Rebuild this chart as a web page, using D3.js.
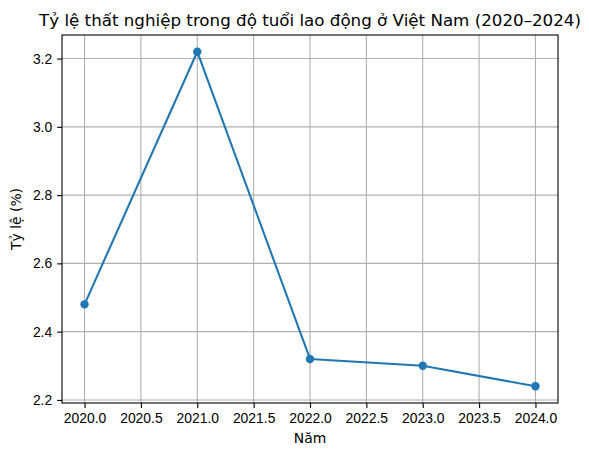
<!DOCTYPE html>
<html>
<head>
<meta charset="utf-8">
<script src="https://cdn.jsdelivr.net/npm/d3@7"></script>
<style>
  body { margin: 0; background: #fff; }
  svg { font-family: "DejaVu Sans", sans-serif; display: block; }
  .tick text { font-size: 13.9px; fill: #000; }
</style>
</head>
<body>
<figure id="chart" style="margin:0"></figure>
<script>
// data
var years = [2020, 2021, 2022, 2023, 2024];
var rates = [2.48, 3.22, 2.32, 2.30, 2.24];
var xTicks = [2020.0, 2020.5, 2021.0, 2021.5, 2022.0, 2022.5, 2023.0, 2023.5, 2024.0];
var yTicks = [2.2, 2.4, 2.6, 2.8, 3.0, 3.2];

let dimensions = {
    width: 589,
    height: 457,
    margin: { top: 35, right: 31, bottom: 54, left: 62 },
};
dimensions.boundedWidth = dimensions.width - dimensions.margin.left - dimensions.margin.right;
dimensions.boundedHeight = dimensions.height - dimensions.margin.top - dimensions.margin.bottom;

var root = d3.select("figure#chart")
    .append("svg")
    .attr("width", dimensions.width)
    .attr("height", dimensions.height);

var svg = root.append("g")
    .attr("transform", `translate(${dimensions.margin.left}, ${dimensions.margin.top})`);

// matplotlib style 5% margins
var xPad = (d3.max(years) - d3.min(years)) * 0.05;
var yPad = (d3.max(rates) - d3.min(rates)) * 0.05;

var xScale = d3.scaleLinear()
    .domain([d3.min(years) - xPad, d3.max(years) + xPad])
    .range([0, dimensions.boundedWidth]);

var yScale = d3.scaleLinear()
    .domain([d3.min(rates) - yPad, d3.max(rates) + yPad])
    .range([dimensions.boundedHeight, 0]);

// grid
svg.append("g")
    .selectAll("line.vgrid")
    .data(xTicks)
    .enter()
    .append("line")
    .attr("x1", d => xScale(d))
    .attr("x2", d => xScale(d))
    .attr("y1", 0)
    .attr("y2", dimensions.boundedHeight)
    .attr("stroke", "#b0b0b0")
    .attr("stroke-width", 1.1);

svg.append("g")
    .selectAll("line.hgrid")
    .data(yTicks)
    .enter()
    .append("line")
    .attr("x1", 0)
    .attr("x2", dimensions.boundedWidth)
    .attr("y1", d => yScale(d))
    .attr("y2", d => yScale(d))
    .attr("stroke", "#b0b0b0")
    .attr("stroke-width", 1.1);

// line + markers
var line = d3.line()
    .x((d, i) => xScale(years[i]))
    .y(d => yScale(d));

svg.append("path")
    .datum(rates)
    .attr("d", line)
    .attr("fill", "none")
    .attr("stroke", "#1f77b4")
    .attr("stroke-width", 2.08)
    .attr("stroke-linejoin", "round");

svg.selectAll("circle")
    .data(rates)
    .enter()
    .append("circle")
    .attr("cx", (d, i) => xScale(years[i]))
    .attr("cy", d => yScale(d))
    .attr("r", 4.2)
    .attr("fill", "#1f77b4");

// axes
var xAxis = svg.append("g")
    .attr("transform", `translate(0, ${dimensions.boundedHeight})`)
    .call(d3.axisBottom(xScale).tickValues(xTicks).tickFormat(d3.format(".1f")).tickSizeInner(4.9).tickSizeOuter(0).tickPadding(4.9));

var yAxis = svg.append("g")
    .call(d3.axisLeft(yScale).tickValues(yTicks).tickFormat(d3.format(".1f")).tickSizeInner(4.9).tickSizeOuter(0).tickPadding(4.9));

[xAxis, yAxis].forEach(a => {
    a.select(".domain").remove();
    a.selectAll(".tick line").attr("stroke", "#000").attr("stroke-width", 1.1);
});

// frame
svg.append("rect")
    .attr("x", 0)
    .attr("y", 0)
    .attr("width", dimensions.boundedWidth)
    .attr("height", dimensions.boundedHeight)
    .attr("fill", "none")
    .attr("stroke", "#000")
    .attr("stroke-width", 1.1);

// labels
root.append("text")
    .attr("x", dimensions.margin.left + dimensions.boundedWidth / 2)
    .attr("y", 26)
    .attr("text-anchor", "middle")
    .attr("font-size", "16.7px")
    .text("Tỷ lệ thất nghiệp trong độ tuổi lao động ở Việt Nam (2020–2024)");

root.append("text")
    .attr("x", dimensions.margin.left + dimensions.boundedWidth / 2)
    .attr("y", 443)
    .attr("text-anchor", "middle")
    .attr("font-size", "13.9px")
    .text("Năm");

root.append("text")
    .attr("transform", `translate(21, ${dimensions.margin.top + dimensions.boundedHeight / 2}) rotate(-90)`)
    .attr("text-anchor", "middle")
    .attr("font-size", "13.9px")
    .text("Tỷ lệ (%)");
</script>
</body>
</html>
